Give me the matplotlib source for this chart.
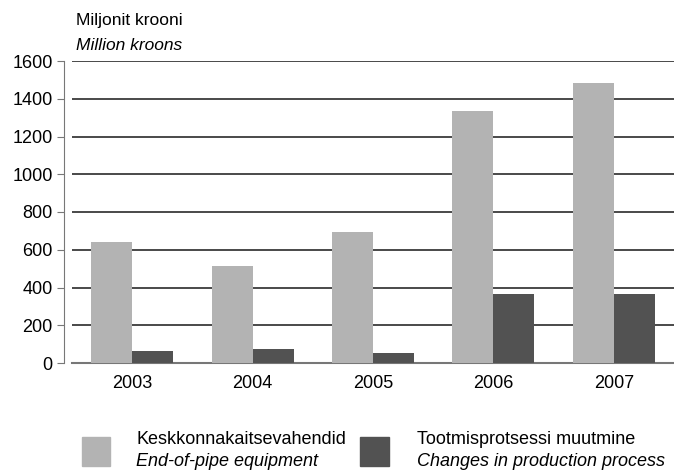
import matplotlib.pyplot as plt
import numpy as np
from matplotlib.patches import Rectangle

plt.rcParams['font.family'] = ['Liberation Sans', 'DejaVu Sans']

# data (million kroons)
years = ['2003', '2004', '2005', '2006', '2007']
end_of_pipe = [641, 514, 694, 1335, 1483]
process_change = [64, 74, 53, 366, 366]

light = '#b3b3b3'
dark = '#525252'
fs = 13

fig = plt.figure(figsize=(6.74, 4.72), dpi=100)
ax = fig.add_axes([72 / 674, 1 - 363 / 472, 1 - 72 / 674, 302 / 472])

x = np.arange(len(years))
w = 0.34
ax.bar(x - w / 2, end_of_pipe, width=w, color=light, zorder=3)
ax.bar(x + w / 2, process_change, width=w, color=dark, zorder=3)

ax.set_xlim(-0.5, len(years) - 0.5)
ax.set_ylim(0, 1600)
ax.set_yticks(range(0, 1601, 200))
ax.set_xticks(x)
ax.set_xticklabels(years)

ax.yaxis.grid(True, color='#3a3a3a', linewidth=1.3, zorder=0)
ax.set_axisbelow(True)

for s in ['top', 'right']:
    ax.spines[s].set_visible(False)
ax.spines['left'].set_position(('outward', 6))
ax.spines['left'].set_color('#777777')
ax.spines['bottom'].set_color('#777777')
ax.spines['bottom'].set_linewidth(1.5)
ax.tick_params(axis='y', length=5, color='#777777', labelsize=fs, pad=3)
ax.tick_params(axis='x', length=0, labelsize=fs, pad=9)

fig.text(76 / 674, 1 - 20 / 472, 'Miljonit krooni', fontsize=12.5, va='center')
fig.text(76 / 674, 1 - 45 / 472, 'Million kroons', fontsize=12.5, style='italic', va='center')

# legend at bottom
fig.patches.append(Rectangle((82 / 674, 1 - 466 / 472), 28 / 674, 29 / 472,
                             transform=fig.transFigure, color=light))
fig.patches.append(Rectangle((360 / 674, 1 - 466 / 472), 29 / 674, 29 / 472,
                             transform=fig.transFigure, color=dark))
fig.text(136 / 674, 1 - 440 / 472, 'Keskkonnakaitsevahendid', fontsize=fs, va='center')
fig.text(136 / 674, 1 - 461 / 472, 'End-of-pipe equipment', fontsize=fs, style='italic', va='center')
fig.text(417 / 674, 1 - 440 / 472, 'Tootmisprotsessi muutmine', fontsize=fs, va='center')
fig.text(417 / 674, 1 - 461 / 472, 'Changes in production process', fontsize=fs, style='italic', va='center')

fig.savefig('out.png', dpi=100)
